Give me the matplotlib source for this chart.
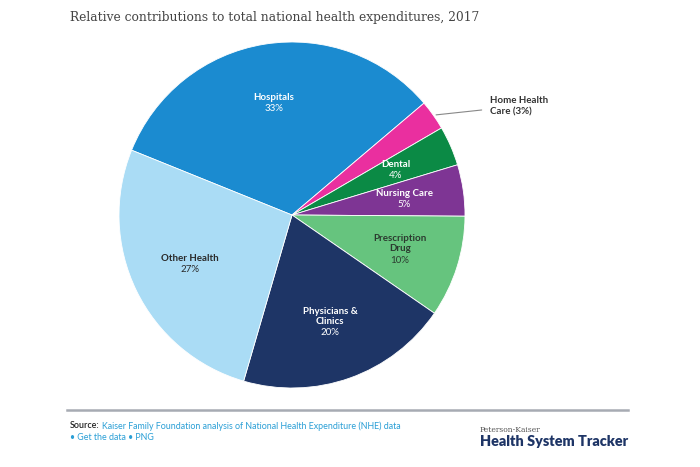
import numpy as np
import matplotlib
matplotlib.use("Agg")
from matplotlib import pyplot as plt

# shares of national health expenditures, 2017 (clockwise from Hospitals)
categories = ["Hospitals", "Home Health Care", "Dental", "Nursing Care",
              "Prescription\nDrug", "Physicians &\nClinics", "Other Health"]
shares = [32.7, 2.8, 3.7, 4.8, 9.5, 19.9, 26.6]
pct_labels = ["33%", "3%", "4%", "5%", "10%", "20%", "27%"]
colors = ["#1b8bd0", "#ea2f9f", "#0b8a45", "#7e3594", "#66c47e", "#1e3566", "#aadcf5"]
text_colors = ["white", None, "white", "white", "#2b3a2f", "white", "#2a2a2a"]

plt.rcParams['font.family'] = ['Lato', 'DejaVu Sans']

fig = plt.figure(figsize=(7, 4.67), dpi=100)
W, H = 700, 467

# pie axes: centre (292, 215), radius 173 px
ax = fig.add_axes([119 / W, (H - 388) / H, 346 / W, 346 / H])
wedges, _ = ax.pie(shares, colors=colors, startangle=158, counterclock=False,
                   wedgeprops=dict(edgecolor="white", linewidth=0.6))
ax.set_xlim(-1, 1)
ax.set_ylim(-1, 1)
ax.set_aspect("equal")
ax.axis("off")

line_h = 7.9  # points
for i, w in enumerate(wedges):
    if text_colors[i] is None:
        continue
    ang = np.deg2rad((w.theta1 + w.theta2) / 2)
    x, y = 0.655 * np.cos(ang), 0.655 * np.sin(ang)
    n_name = categories[i].count("\n") + 1
    n = n_name + 1
    top = (n - 1) / 2 * line_h
    name_off = top - (n_name - 1) / 2 * line_h
    ax.annotate(categories[i], (x, y), xytext=(0, name_off), textcoords="offset points",
                ha="center", va="center", fontsize=7, fontweight="bold",
                color=text_colors[i], linespacing=1.2)
    ax.annotate(pct_labels[i], (x, y), xytext=(0, -top), textcoords="offset points",
                ha="center", va="center", fontsize=7, color=text_colors[i])

# Home Health callout
hw = wedges[1]
ang = np.deg2rad((hw.theta1 + hw.theta2) / 2)
ax.annotate("Home Health\nCare (3%)", (1.0 * np.cos(ang), 1.0 * np.sin(ang)),
            xytext=(490 / W, 1 - 106 / H), textcoords="figure fraction",
            ha="left", va="center", fontsize=7, fontweight="bold", color="#333333",
            linespacing=1.3,
            arrowprops=dict(arrowstyle="-", color="#888888", lw=0.8,
                            shrinkA=4, shrinkB=2))

# title
fig.text(70 / W, 1 - 17 / H, "Relative contributions to total national health expenditures, 2017",
         family="DejaVu Serif", fontsize=8.8, color="#444444", ha="left", va="center")

# footer
fig.add_artist(plt.Line2D([67 / W, 628 / W], [1 - 410 / H, 1 - 410 / H],
                          color="#a7abb3", lw=1.8, transform=fig.transFigure))
t = fig.text(70 / W, 1 - 426 / H, "Source:", fontsize=6.4, color="#222222",
             ha="left", va="center", fontweight="semibold")
fig.canvas.draw()
bb = t.get_window_extent()
fig.text((bb.x1 + 2) / W, 1 - 426 / H,
         "Kaiser Family Foundation analysis of National Health Expenditure (NHE) data",
         fontsize=6.4, color="#2a9fd6", ha="left", va="center")
fig.text(70 / W, 1 - 437 / H, "\u2022 Get the data \u2022 PNG", fontsize=6.4,
         color="#2a9fd6", ha="left", va="center")

fig.text(480 / W, 1 - 430 / H, "Peterson-Kaiser", family="DejaVu Serif",
         fontsize=5.5, color="#555555", ha="left", va="center")
fig.text(480 / W, 1 - 441 / H, "Health System Tracker", fontsize=10.4,
         fontweight="heavy", color="#1e3566", ha="left", va="center")

fig.savefig("out.png", dpi=100)
